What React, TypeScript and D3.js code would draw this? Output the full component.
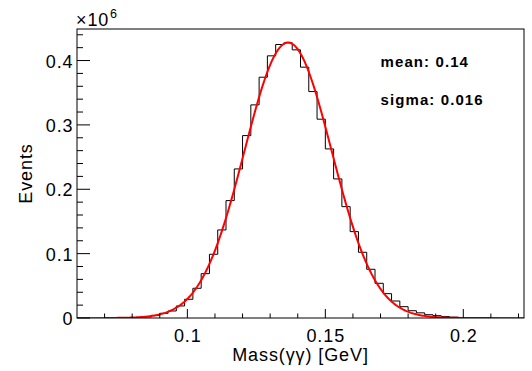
import React from "react";
import * as d3 from "d3";

// Histogram: bin low edges (GeV) and counts (x10^6), bin width 0.003 GeV
const binLows = [
  0.060, 0.063, 0.066, 0.069, 0.072, 0.075, 0.078, 0.081, 0.084, 0.087,
  0.090, 0.093, 0.096, 0.099, 0.102, 0.105, 0.108, 0.111, 0.114, 0.117,
  0.120, 0.123, 0.126, 0.129, 0.132, 0.135, 0.138, 0.141, 0.144, 0.147,
  0.150, 0.153, 0.156, 0.159, 0.162, 0.165, 0.168, 0.171, 0.174, 0.177,
  0.180, 0.183, 0.186, 0.189, 0.192, 0.195, 0.198, 0.201, 0.204, 0.207,
  0.210, 0.213, 0.216, 0.219,
];
const binWidth = 0.003;
const counts = [
  0, 0, 0, 0, 0, 0.0001, 0.0003, 0.0008, 0.0018, 0.0040,
  0.0073, 0.0109, 0.0187, 0.0291, 0.0462, 0.0689, 0.0990, 0.1368, 0.1824, 0.2316,
  0.2834, 0.3311, 0.3741, 0.4073, 0.4249, 0.4275, 0.4166, 0.3897, 0.3518, 0.3089,
  0.2627, 0.2161, 0.1730, 0.1342, 0.1021, 0.0757, 0.0539, 0.0378, 0.0264, 0.0176,
  0.0113, 0.0080, 0.0051, 0.0036, 0.0022, 0.0013, 0.0008, 0.0005, 0.0003, 0.0002,
  0.0001, 0, 0, 0,
];

// Gaussian fit parameters
const fitAmplitude = 0.428;
const fitMean = 0.1365;
const fitSigma = 0.0158;
const fitRange = [0.07, 0.21];

// Axis ticks
const xMajorTicks = [0.1, 0.15, 0.2];
const xTickLabels = ["0.1", "0.15", "0.2"];
const xMinorTicks = [0.07, 0.08, 0.09, 0.11, 0.12, 0.13, 0.14, 0.16, 0.17, 0.18, 0.19, 0.21, 0.22];
const yMajorTicks = [0, 0.1, 0.2, 0.3, 0.4];
const yTickLabels = ["0", "0.1", "0.2", "0.3", "0.4"];
const yMinorTicks = [0.02, 0.04, 0.06, 0.08, 0.12, 0.14, 0.16, 0.18, 0.22, 0.24, 0.26, 0.28, 0.32, 0.34, 0.36, 0.38, 0.42, 0.44];

const statLabels = ["mean: 0.14", "sigma: 0.016"];

const W = 532;
const H = 371;
const left = 77;
const right = 524;
const top = 29;
const bottom = 318;

export default function App() {
  const x = d3.scaleLinear().domain([0.06, 0.222]).range([left, right]);
  const y = d3.scaleLinear().domain([0, 0.449]).range([bottom, top]);

  const stepData = binLows.map((b, i) => ({ x: b, y: counts[i] }));
  stepData.push({ x: binLows[binLows.length - 1] + binWidth, y: counts[counts.length - 1] });
  const histPath = d3
    .line<{ x: number; y: number }>()
    .x((d) => x(d.x))
    .y((d) => y(d.y))
    .curve(d3.curveStepAfter)(stepData);

  const fitPts: [number, number][] = [];
  const nFit = 300;
  for (let i = 0; i <= nFit; i++) {
    const xv = fitRange[0] + ((fitRange[1] - fitRange[0]) * i) / nFit;
    const z = (xv - fitMean) / fitSigma;
    fitPts.push([xv, fitAmplitude * Math.exp(-0.5 * z * z)]);
  }
  const fitPath = d3
    .line<[number, number]>()
    .x((d) => x(d[0]))
    .y((d) => y(d[1]))(fitPts);

  const font = "'Liberation Sans', Arial, Helvetica, sans-serif";
  const ls = 0.9;

  return (
    <svg
      width={W}
      height={H}
      style={{ position: "absolute", left: 0, top: 0, background: "#fff" }}
      fontFamily={font}
    >
      <rect x={0} y={0} width={W} height={H} fill="#fff" />
      <defs>
        <clipPath id="plotclip">
          <rect x={left} y={top} width={right - left} height={bottom - top} />
        </clipPath>
      </defs>
      <g clipPath="url(#plotclip)">
        <path d={histPath || ""} fill="none" stroke="#000" strokeWidth={1} />
        <path d={fitPath || ""} fill="none" stroke="#ff0000" strokeWidth={2} />
      </g>
      {/* frame */}
      <rect
        x={left}
        y={top}
        width={right - left}
        height={bottom - top}
        fill="none"
        stroke="#000"
        strokeWidth={1}
      />
      {/* x ticks */}
      {xMajorTicks.map((t) => (
        <line key={"xM" + t} x1={x(t)} x2={x(t)} y1={bottom} y2={bottom - 9} stroke="#000" />
      ))}
      {xMinorTicks.map((t) => (
        <line key={"xm" + t} x1={x(t)} x2={x(t)} y1={bottom} y2={bottom - 4.5} stroke="#000" />
      ))}
      {xMajorTicks.map((t, i) => (
        <text
          key={"xl" + t}
          x={x(t) + ls / 2}
          y={342}
          fontSize={18}
          letterSpacing={ls}
          textAnchor="middle"
          fill="#000"
        >
          {xTickLabels[i]}
        </text>
      ))}
      {/* y ticks */}
      {yMajorTicks.map((t) => (
        <line key={"yM" + t} x1={left} x2={left + 13} y1={y(t)} y2={y(t)} stroke="#000" />
      ))}
      {yMinorTicks.map((t) => (
        <line key={"ym" + t} x1={left} x2={left + 6} y1={y(t)} y2={y(t)} stroke="#000" />
      ))}
      {yMajorTicks.map((t, i) => (
        <text
          key={"yl" + t}
          x={73.5}
          y={y(t) + 7}
          fontSize={18}
          letterSpacing={ls}
          textAnchor="end"
          fill="#000"
        >
          {yTickLabels[i]}
        </text>
      ))}
      {/* exponent */}
      <text x={76} y={26} fontSize={18} letterSpacing={ls} fill="#000">
        ×10
      </text>
      <text x={110} y={18} fontSize={12.5} fill="#000">
        6
      </text>
      {/* axis titles */}
      <text
        x={(left + right) / 2}
        y={360.5}
        fontSize={18}
        letterSpacing={ls}
        textAnchor="middle"
        fill="#000"
      >
        Mass(γγ) [GeV]
      </text>
      <text
        transform={`translate(32,${(top + bottom) / 2}) rotate(-90)`}
        fontSize={18}
        letterSpacing={ls}
        textAnchor="middle"
        fill="#000"
      >
        Events
      </text>
      {/* stats */}
      {statLabels.map((s, i) => (
        <text
          key={s}
          x={380.5}
          y={67 + i * 38}
          fontSize={15}
          fontWeight="bold"
          letterSpacing={1.1}
          fill="#000"
        >
          {s}
        </text>
      ))}
    </svg>
  );
}
